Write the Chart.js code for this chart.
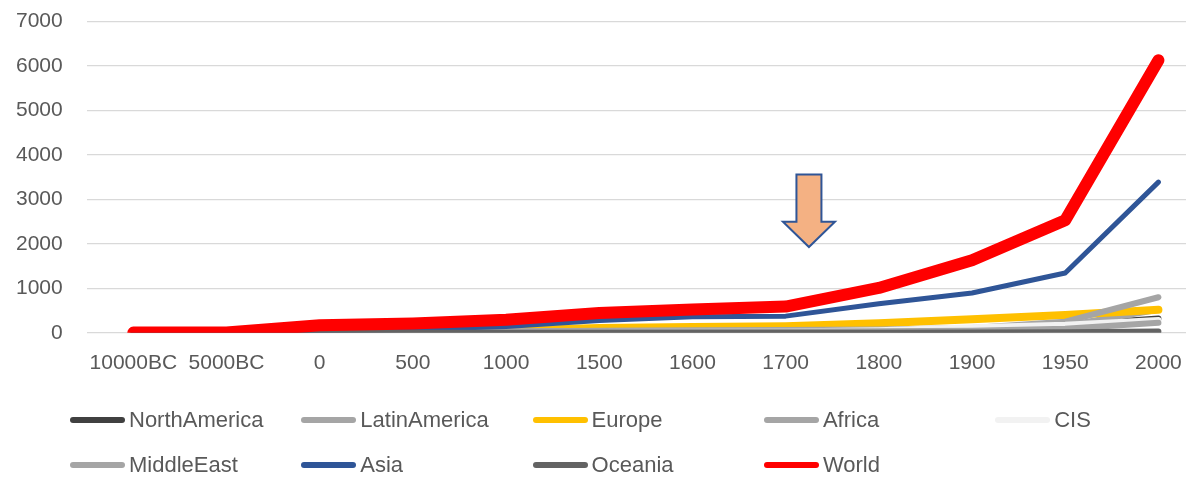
<!DOCTYPE html>
<html>
<head>
<meta charset="utf-8">
<script src="https://cdn.jsdelivr.net/npm/chart.js@4.4.1/dist/chart.umd.min.js"></script>
<style>
  html, body { margin: 0; padding: 0; background: #fff; width: 1186px; height: 478px; overflow: hidden; }
  #wrap { position: absolute; left: -24px; top: -15px; width: 1239px; height: 422px; }
  #legend { position: absolute; left: 0; top: 0; width: 1186px; height: 478px; pointer-events: none;
            font-family: "Liberation Sans", Arial, sans-serif; font-size: 22px; color: #595959; }
  .item { position: absolute; display: flex; align-items: center; white-space: nowrap; }
  .swatch { width: 55px; height: 6px; border-radius: 3px; margin-right: 4px; }
</style>
</head>
<body>
<div id="wrap"><canvas id="chart"></canvas></div>
<div id="legend"></div>
<script>
const categories = ["10000BC", "5000BC", "0", "500", "1000", "1500", "1600", "1700", "1800", "1900", "1950", "2000"];

const seriesNames = ["NorthAmerica", "LatinAmerica", "Europe", "Africa", "CIS", "MiddleEast", "Asia", "Oceania", "World"];
const northAmerica = [0, 0, 1, 1, 2, 2, 2, 2, 11, 82, 176, 320];
const latinAmerica = [1, 1, 6, 7, 11, 18, 9, 12, 21, 65, 166, 520];
const europe       = [1, 2, 35, 40, 50, 110, 130, 150, 215, 305, 400, 520];
const africa       = [1, 2, 17, 20, 33, 47, 55, 61, 74, 110, 250, 800];
const cis          = [1, 1, 4, 5, 7, 17, 21, 27, 55, 125, 180, 290];
const middleEast   = [1, 1, 20, 20, 22, 25, 28, 30, 35, 45, 90, 225];
const asia         = [1, 2, 60, 75, 140, 278, 360, 375, 655, 895, 1345, 3390];
const oceania      = [0, 0, 1, 1, 1, 2, 2, 2, 2, 6, 13, 30];
const world        = [4, 5, 170, 210, 296, 447, 522, 590, 1010, 1630, 2530, 6130];

const seriesData = [northAmerica, latinAmerica, europe, africa, cis, middleEast, asia, oceania, world];
const seriesColors = ["#404040", "#a5a5a5", "#ffc000", "#a5a5a5", "#f2f2f2", "#a5a5a5", "#2f5597", "#636363", "#ff0000"];
const seriesWidths = [6, 6, 8, 6, 6, 6, 5, 6, 12];

const yTicks = [0, 1000, 2000, 3000, 4000, 5000, 6000, 7000];

// down arrow between 1700 and 1800 (category index, value range)
const arrowAt = 7.25;
const arrowTop = 3560;
const arrowHeadStart = 2500;
const arrowBottom = 1930;

const arrowPlugin = {
  id: "arrow",
  afterDatasetsDraw(chart) {
    const c = chart.ctx, x = chart.scales.x, y = chart.scales.y;
    const cx = x.getPixelForValue(arrowAt);
    const t = y.getPixelForValue(arrowTop), h = y.getPixelForValue(arrowHeadStart), b = y.getPixelForValue(arrowBottom);
    c.save();
    c.beginPath();
    c.moveTo(cx - 12.5, t);
    c.lineTo(cx + 12.5, t);
    c.lineTo(cx + 12.5, h);
    c.lineTo(cx + 26, h);
    c.lineTo(cx, b);
    c.lineTo(cx - 26, h);
    c.lineTo(cx - 12.5, h);
    c.closePath();
    c.fillStyle = "#f4b183";
    c.fill();
    c.lineWidth = 2;
    c.strokeStyle = "#2f5597";
    c.stroke();
    c.restore();
  }
};

const datasets = seriesNames.map((name, i) => ({
  label: name,
  data: seriesData[i],
  borderColor: seriesColors[i],
  backgroundColor: seriesColors[i],
  borderWidth: seriesWidths[i],
  borderCapStyle: "round",
  borderJoinStyle: "round",
  pointRadius: 0,
  tension: 0,
  order: seriesNames.length - i
}));

const tickFont = { family: "'Liberation Sans', Arial, sans-serif", size: 21 };

const chart = new Chart(document.getElementById("chart"), {
  type: "line",
  data: { labels: categories, datasets: datasets },
  options: {
    responsive: true,
    maintainAspectRatio: false,
    animation: false,
    layout: { padding: { left: 16, right: 10, top: 10, bottom: 13 } },
    plugins: { legend: { display: false }, tooltip: { enabled: false } },
    scales: {
      x: {
        offset: true,
        grid: { display: false, drawTicks: false },
        border: { display: false },
        ticks: { color: "#595959", font: tickFont, padding: 18, maxRotation: 0, autoSkip: false }
      },
      y: {
        min: 0,
        max: 7000,
        afterBuildTicks: axis => { axis.ticks = yTicks.map(v => ({ value: v })); },
        grid: { color: "#d9d9d9", lineWidth: 1.3, drawTicks: false },
        border: { display: false },
        ticks: { color: "#595959", font: tickFont, padding: 24, callback: v => String(v) }
      }
    }
  },
  plugins: [arrowPlugin]
});

// legend laid out on a fixed grid like the original
const legend = document.getElementById("legend");
chart.data.datasets.forEach((ds, i) => {
  const row = Math.floor(i / 5), col = i % 5;
  const item = document.createElement("div");
  item.className = "item";
  item.style.left = (70 + col * 231.3) + "px";
  item.style.top = (420 + row * 45 - 13) + "px";
  item.style.height = "26px";
  item.innerHTML = `<span class="swatch" style="background:${ds.borderColor}"></span><span>${ds.label}</span>`;
  legend.appendChild(item);
});
</script>
</body>
</html>
